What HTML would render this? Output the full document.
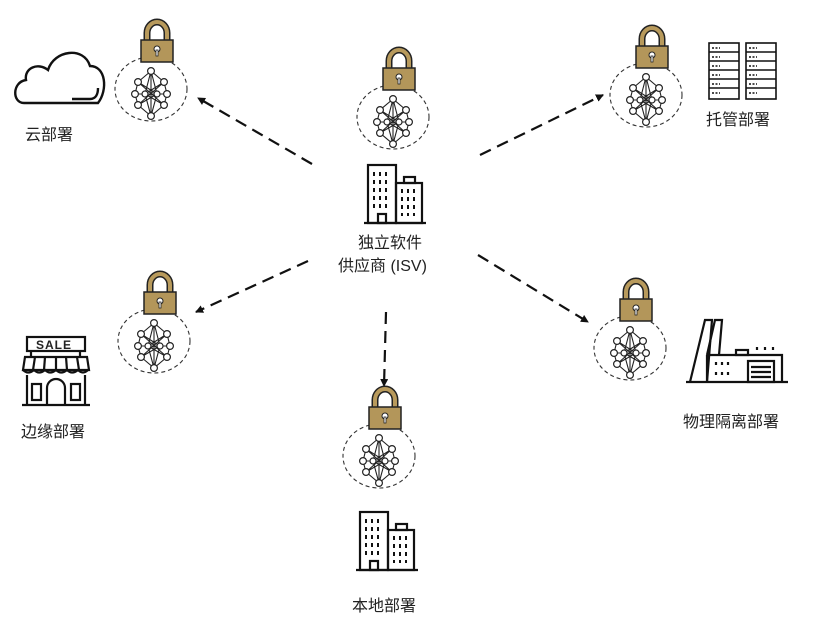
<!DOCTYPE html>
<html><head><meta charset="utf-8"><style>
html,body{margin:0;padding:0;background:#fff;}
svg{display:block}
text{font-family:"Liberation Sans","Noto Sans CJK SC",sans-serif;font-size:16px;fill:#222}
</style></head><body>
<svg width="821" height="642" viewBox="0 0 821 642" xmlns="http://www.w3.org/2000/svg">
<defs>
<marker id="ah" markerWidth="8" markerHeight="8" refX="7" refY="4" orient="auto" markerUnits="userSpaceOnUse">
<path d="M0,0 L8,4 L0,8 Z" fill="#111"/>
</marker>
<g id="net" stroke="#222" stroke-width="1.1" fill="none">
<path d="M0,-22 L-13,-11 L-16,1 L-13,12 L0,23 L13,12 L16,1 L13,-11 Z"/>
<path d="M0,-22 L-6,1 L0,23 L6,1 Z M-13,-11 L13,12 M13,-11 L-13,12 M-16,1 L16,1 M0,-22 L0,23 M-13,-11 L6,1 M13,-11 L-6,1 M-13,12 L6,1 M13,12 L-6,1"/>
<g fill="#fff" stroke-width="1.2">
<circle cx="0" cy="-22" r="3.4"/><circle cx="-13" cy="-11" r="3.4"/><circle cx="13" cy="-11" r="3.4"/>
<circle cx="-16" cy="1" r="3.4"/><circle cx="-6" cy="1" r="3"/><circle cx="6" cy="1" r="3"/><circle cx="16" cy="1" r="3.4"/>
<circle cx="-13" cy="12" r="3.4"/><circle cx="13" cy="12" r="3.4"/><circle cx="0" cy="23" r="3.4"/>
</g>
</g>
<g id="node">
<ellipse cx="0" cy="0" rx="36" ry="32" fill="none" stroke="#333" stroke-width="1.1" stroke-dasharray="4,3"/>
<use href="#net" x="0" y="4"/>
<path d="M-4,-48 V-56 a10,11 0 0 1 20,0 V-48" fill="none" stroke="#222" stroke-width="7"/>
<path d="M-4,-48 V-56 a10,11 0 0 1 20,0 V-48" fill="none" stroke="#b89a5c" stroke-width="4"/>
<rect x="-10" y="-49" width="32" height="22" fill="#b3965a" stroke="#222" stroke-width="1.5"/>
<circle cx="6" cy="-40" r="3" fill="#fff" stroke="#222" stroke-width="1"/>
<rect x="5" y="-39" width="2" height="6" fill="#fff" stroke="#222" stroke-width="0.8"/>
</g>
<g id="bldg" fill="none" stroke="#111" stroke-width="2.2">
<rect x="0" y="0" width="28" height="58"/>
<rect x="28" y="18" width="26" height="40"/>
<rect x="36" y="12" width="11" height="6"/>
<rect x="10" y="49" width="8" height="9"/>
<path d="M-4,58 H58" />
<g stroke-width="2">
<path d="M6,7v4M12,7v4M18,7v4M6,15v4M12,15v4M18,15v4M6,23v4M12,23v4M18,23v4M6,31v4M12,31v4M18,31v4M6,39v4M12,39v4M18,39v4"/>
<path d="M34,24v4M40,24v4M46,24v4M34,32v4M40,32v4M46,32v4M34,40v4M40,40v4M46,40v4M34,48v3M40,48v3M46,48v3"/>
</g>
</g>
</defs>

<!-- arrows -->
<g stroke="#111" stroke-width="2.2" fill="none" stroke-dasharray="12,7" marker-end="url(#ah)">
<line x1="312" y1="164" x2="198" y2="98"/>
<line x1="480" y1="155" x2="603" y2="95"/>
<line x1="308" y1="261" x2="196" y2="312"/>
<line x1="478" y1="255" x2="588" y2="322"/>
<line x1="386" y1="312" x2="384" y2="386"/>
</g>

<!-- nodes -->
<use href="#node" x="151" y="89"/>
<use href="#node" x="393" y="117"/>
<use href="#node" x="646" y="95"/>
<use href="#node" x="154" y="341"/>
<use href="#node" x="630" y="348"/>
<use href="#node" x="379" y="456"/>

<!-- buildings -->
<use href="#bldg" x="368" y="165"/>
<use href="#bldg" x="360" y="512"/>

<!-- cloud -->
<path d="M98,103 H24 C12,103 12,82 26,80 C24,68 38,62 48,70 C54,50 84,46 90,66 C106,66 108,90 98,103 Z" fill="none" stroke="#111" stroke-width="2.4"/>
<path d="M72,99 H90 C96,99 98,94 98,88" fill="none" stroke="#111" stroke-width="2.4"/>

<!-- servers -->
<g fill="none" stroke="#111" stroke-width="1.6">
<rect x="709" y="43" width="30" height="56"/>
<rect x="746" y="43" width="30" height="56"/>
<path d="M709,52H739M709,61H739M709,70H739M709,79H739M709,88H739M746,52H776M746,61H776M746,70H776M746,79H776M746,88H776"/>
<path d="M712,48h8M712,57h8M712,66h8M712,75h8M712,84h8M712,93h8M749,48h8M749,57h8M749,66h8M749,75h8M749,84h8M749,93h8" stroke-dasharray="2,1.5"/>
</g>

<!-- store -->
<g fill="none" stroke="#111" stroke-width="2.2">
<rect x="27" y="337" width="58" height="14"/>
<path d="M31,351V356M80,351V356"/>
<path d="M25,357 H87 L89,370 H23 Z"/>
<path d="M35,357 L33,370 M45,357 L44,370 M56,357 V370 M66,357 L67,370 M77,357 L79,370"/>
<path d="M23,370 q5,5 11,0 q5,5 11,0 q5,5 11,0 q5,5 11,0 q5,5 11,0 q5,5 10,0"/>
<path d="M27,375 V405 M85,375 V405 M22,405 H90"/>
<rect x="32" y="384" width="9" height="16"/><rect x="71" y="384" width="9" height="16"/>
<path d="M47,405 V388 a9,9 0 0 1 18,0 V405"/>
</g>
<text x="36" y="349" style="font-size:12px;font-weight:bold;letter-spacing:1px">SALE</text>

<!-- factory -->
<g fill="none" stroke="#111" stroke-width="2.2">
<path d="M686,382 H788"/>
<path d="M690,382 L705,320 H712 L707,382"/>
<path d="M707,355 L715,320 H722 L719,355"/>
<path d="M707,355 H782 V382 M707,382 V355"/>
<rect x="736" y="350" width="12" height="5"/>
<path d="M757,350v-3M765,350v-3M773,350v-3"/>
<rect x="748" y="361" width="26" height="21"/>
<path d="M751,367h20M751,372h20M751,377h20"/>
<path d="M716,362v3M722,362v3M728,362v3M716,372v3M722,372v3M728,372v3"/>
</g>

<!-- labels -->
<text x="25" y="140">云部署</text>
<text x="706" y="125">托管部署</text>
<text x="358" y="248">独立软件</text>
<text x="338" y="271">供应商 (ISV)</text>
<text x="21" y="437">边缘部署</text>
<text x="683" y="427">物理隔离部署</text>
<text x="352" y="611">本地部署</text>
</svg>
</body></html>
